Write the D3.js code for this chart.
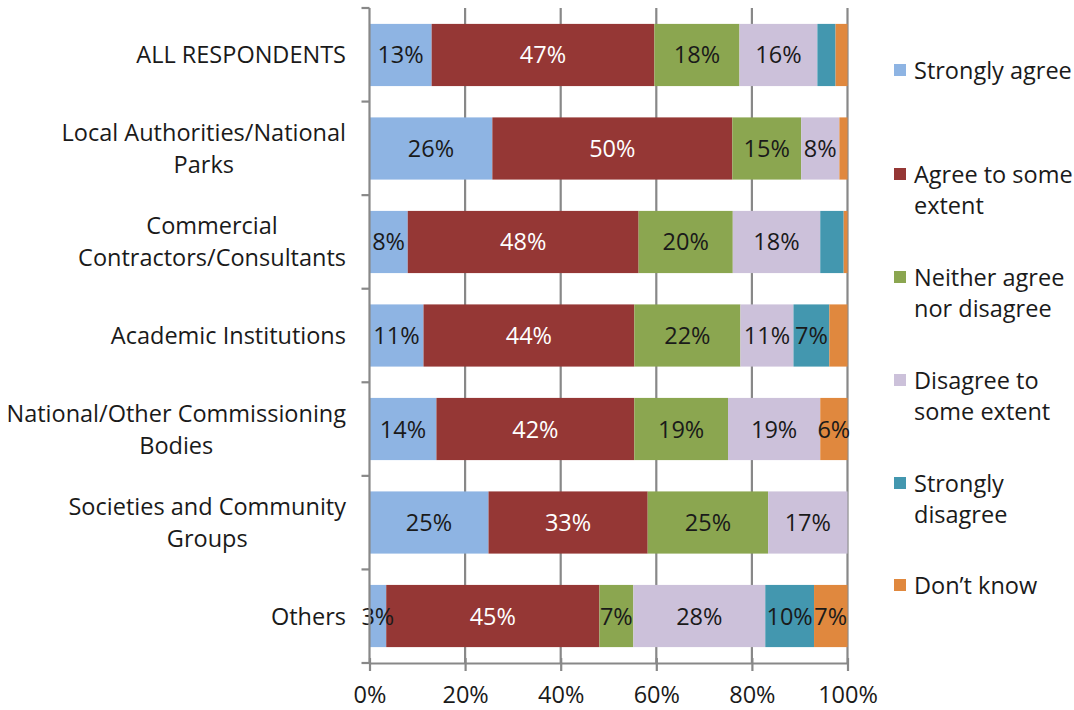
<!DOCTYPE html>
<html><head><meta charset="utf-8">
<script src="https://cdn.jsdelivr.net/npm/d3@7"></script>
<style>body{margin:0;background:#fff}svg{display:block}text{font-family:"Open Sans",Lato,sans-serif;fill:#1a1a1a}</style>
</head><body><svg id="c" width="1074" height="710"></svg>
<script>
const categories = [
  ["ALL RESPONDENTS"],
  ["Local Authorities/National","Parks"],
  ["Commercial","Contractors/Consultants"],
  ["Academic Institutions"],
  ["National/Other Commissioning","Bodies"],
  ["Societies and Community","Groups"],
  ["Others"]
];
const seriesNames = [
  ["Strongly agree"],
  ["Agree to some","extent"],
  ["Neither agree","nor disagree"],
  ["Disagree to","some extent"],
  ["Strongly","disagree"],
  ["Don\u2019t know"]
];
const stronglyAgree   = [13.0, 25.7,  8.0, 11.3, 14.0, 24.9,  3.5];
const agreeSome       = [46.6, 50.2, 48.3, 44.1, 41.4, 33.3, 44.6];
const neither         = [17.8, 14.4, 19.7, 22.2, 19.6, 25.2,  7.1];
const disagreeSome    = [16.3,  8.0, 18.3, 11.1, 19.3, 16.6, 27.6];
const stronglyDisagree= [ 3.8,  0.0,  4.9,  7.5,  0.0,  0.0, 10.2];
const dontKnow        = [ 2.5,  1.7,  0.8,  3.8,  5.7,  0.0,  7.0];
const labelsShown = [
  [1,1,1,1,1,1,1],
  [1,1,1,1,1,1,1],
  [1,1,1,1,1,1,1],
  [1,1,1,1,1,1,1],
  [0,0,0,1,0,0,1],
  [0,0,0,0,1,0,1]
];
const labelText = [
  ["13%","26%","8%","11%","14%","25%","3%"],
  ["47%","50%","48%","44%","42%","33%","45%"],
  ["18%","15%","20%","22%","19%","25%","7%"],
  ["16%","8%","18%","11%","19%","17%","28%"],
  ["","","","7%","","","10%"],
  ["","","","","6%","","7%"]
];
const xTicks = [0,20,40,60,80,100];
const colors = ["#8EB4E3","#953735","#8BA650","#CCC1DA","#4397AF","#E0883E"];
const textColors = ["#1a1a1a","#ffffff","#1a1a1a","#1a1a1a","#1a1a1a","#1a1a1a"];

const FS = 23.5;
const series = [stronglyAgree, agreeSome, neither, disagreeSome, stronglyDisagree, dontKnow];
const svg = d3.select("#c");
const L = 369.5, R = 847.5, T = 8, B = 663;
const x = d3.scaleLinear().domain([0,100]).range([L,R]);
const y = d3.scaleBand().domain(d3.range(categories.length)).range([T,B]).paddingInner(0.335).paddingOuter(0.17);
const grey = "#888";

svg.append("g").selectAll("line").data(xTicks.slice(1)).join("line")
  .attr("x1",d=>x(d)).attr("x2",d=>x(d)).attr("y1",T).attr("y2",B)
  .attr("stroke",grey).attr("stroke-width",2.2);

const rows = categories.map((c,i)=>{
  let acc=0; return series.map((s,k)=>{const v=s[i]; const seg={i,k,x0:acc,x1:acc+v}; acc+=v; return seg;});
}).flat();
const totals = categories.map((c,i)=>d3.sum(series,s=>s[i]));
rows.forEach(r=>{r.x0=r.x0/totals[r.i]*100; r.x1=r.x1/totals[r.i]*100;});
svg.append("g").selectAll("rect").data(rows.filter(r=>r.x1>r.x0)).join("rect")
  .attr("x",r=>x(r.x0)).attr("width",r=>x(r.x1)-x(r.x0))
  .attr("y",r=>y(r.i)).attr("height",y.bandwidth())
  .attr("fill",r=>colors[r.k]);
svg.append("g").selectAll("text").data(rows.filter(r=>labelsShown[r.k][r.i])).join("text")
  .attr("x",r=>x((r.x0+r.x1)/2)).attr("y",r=>y(r.i)+y.bandwidth()/2+8.5)
  .attr("text-anchor","middle").attr("font-size",FS)
  .style("fill",r=>textColors[r.k]).text(r=>labelText[r.k][r.i]);

const xa = svg.append("g").attr("transform",`translate(0,${B})`)
  .call(d3.axisBottom(x).tickValues(xTicks).tickFormat(d=>d+"%").tickSizeInner(8).tickSizeOuter(0).tickPadding(15));
xa.select(".domain").attr("stroke",grey).attr("stroke-width",2.2);
xa.selectAll(".tick line").attr("stroke",grey).attr("stroke-width",2.2).attr("y1",-5);
xa.selectAll(".tick text").attr("font-size",FS).attr("font-family","'Open Sans',Lato,sans-serif").style("fill","#1a1a1a");

svg.append("line").attr("x1",L).attr("x2",L).attr("y1",T).attr("y2",B).attr("stroke",grey).attr("stroke-width",2.2);
const step = (B-T)/categories.length;
svg.append("g").selectAll("line").data(d3.range(categories.length+1)).join("line")
  .attr("x1",L-8).attr("x2",L).attr("y1",d=>T+d*step).attr("y2",d=>T+d*step)
  .attr("stroke",grey).attr("stroke-width",2.2);

const cg = svg.append("g");
categories.forEach((lines,i)=>{
  const cy = y(i)+y.bandwidth()/2;
  const lh = 32;
  const g = cg.append("g");
  const ts = lines.map((t,j)=>g.append("text").attr("font-size",FS).attr("text-anchor","middle")
    .attr("y",cy + (j-(lines.length-1)/2)*lh + 8.5).text(t));
  const w = d3.max(ts,t=>t.node().getComputedTextLength());
  ts.forEach(t=>t.attr("x",346 - w/2));
});

const legY = [70,174,277,380,483,585];
const lg = svg.append("g");
seriesNames.forEach((lines,k)=>{
  lg.append("rect").attr("x",894).attr("y",legY[k]-6).attr("width",12).attr("height",12).attr("fill",colors[k]);
  lines.forEach((t,j)=>lg.append("text").attr("x",914).attr("y",legY[k]+8.5+j*31.5).attr("font-size",FS).text(t));
});
</script></body></html>
